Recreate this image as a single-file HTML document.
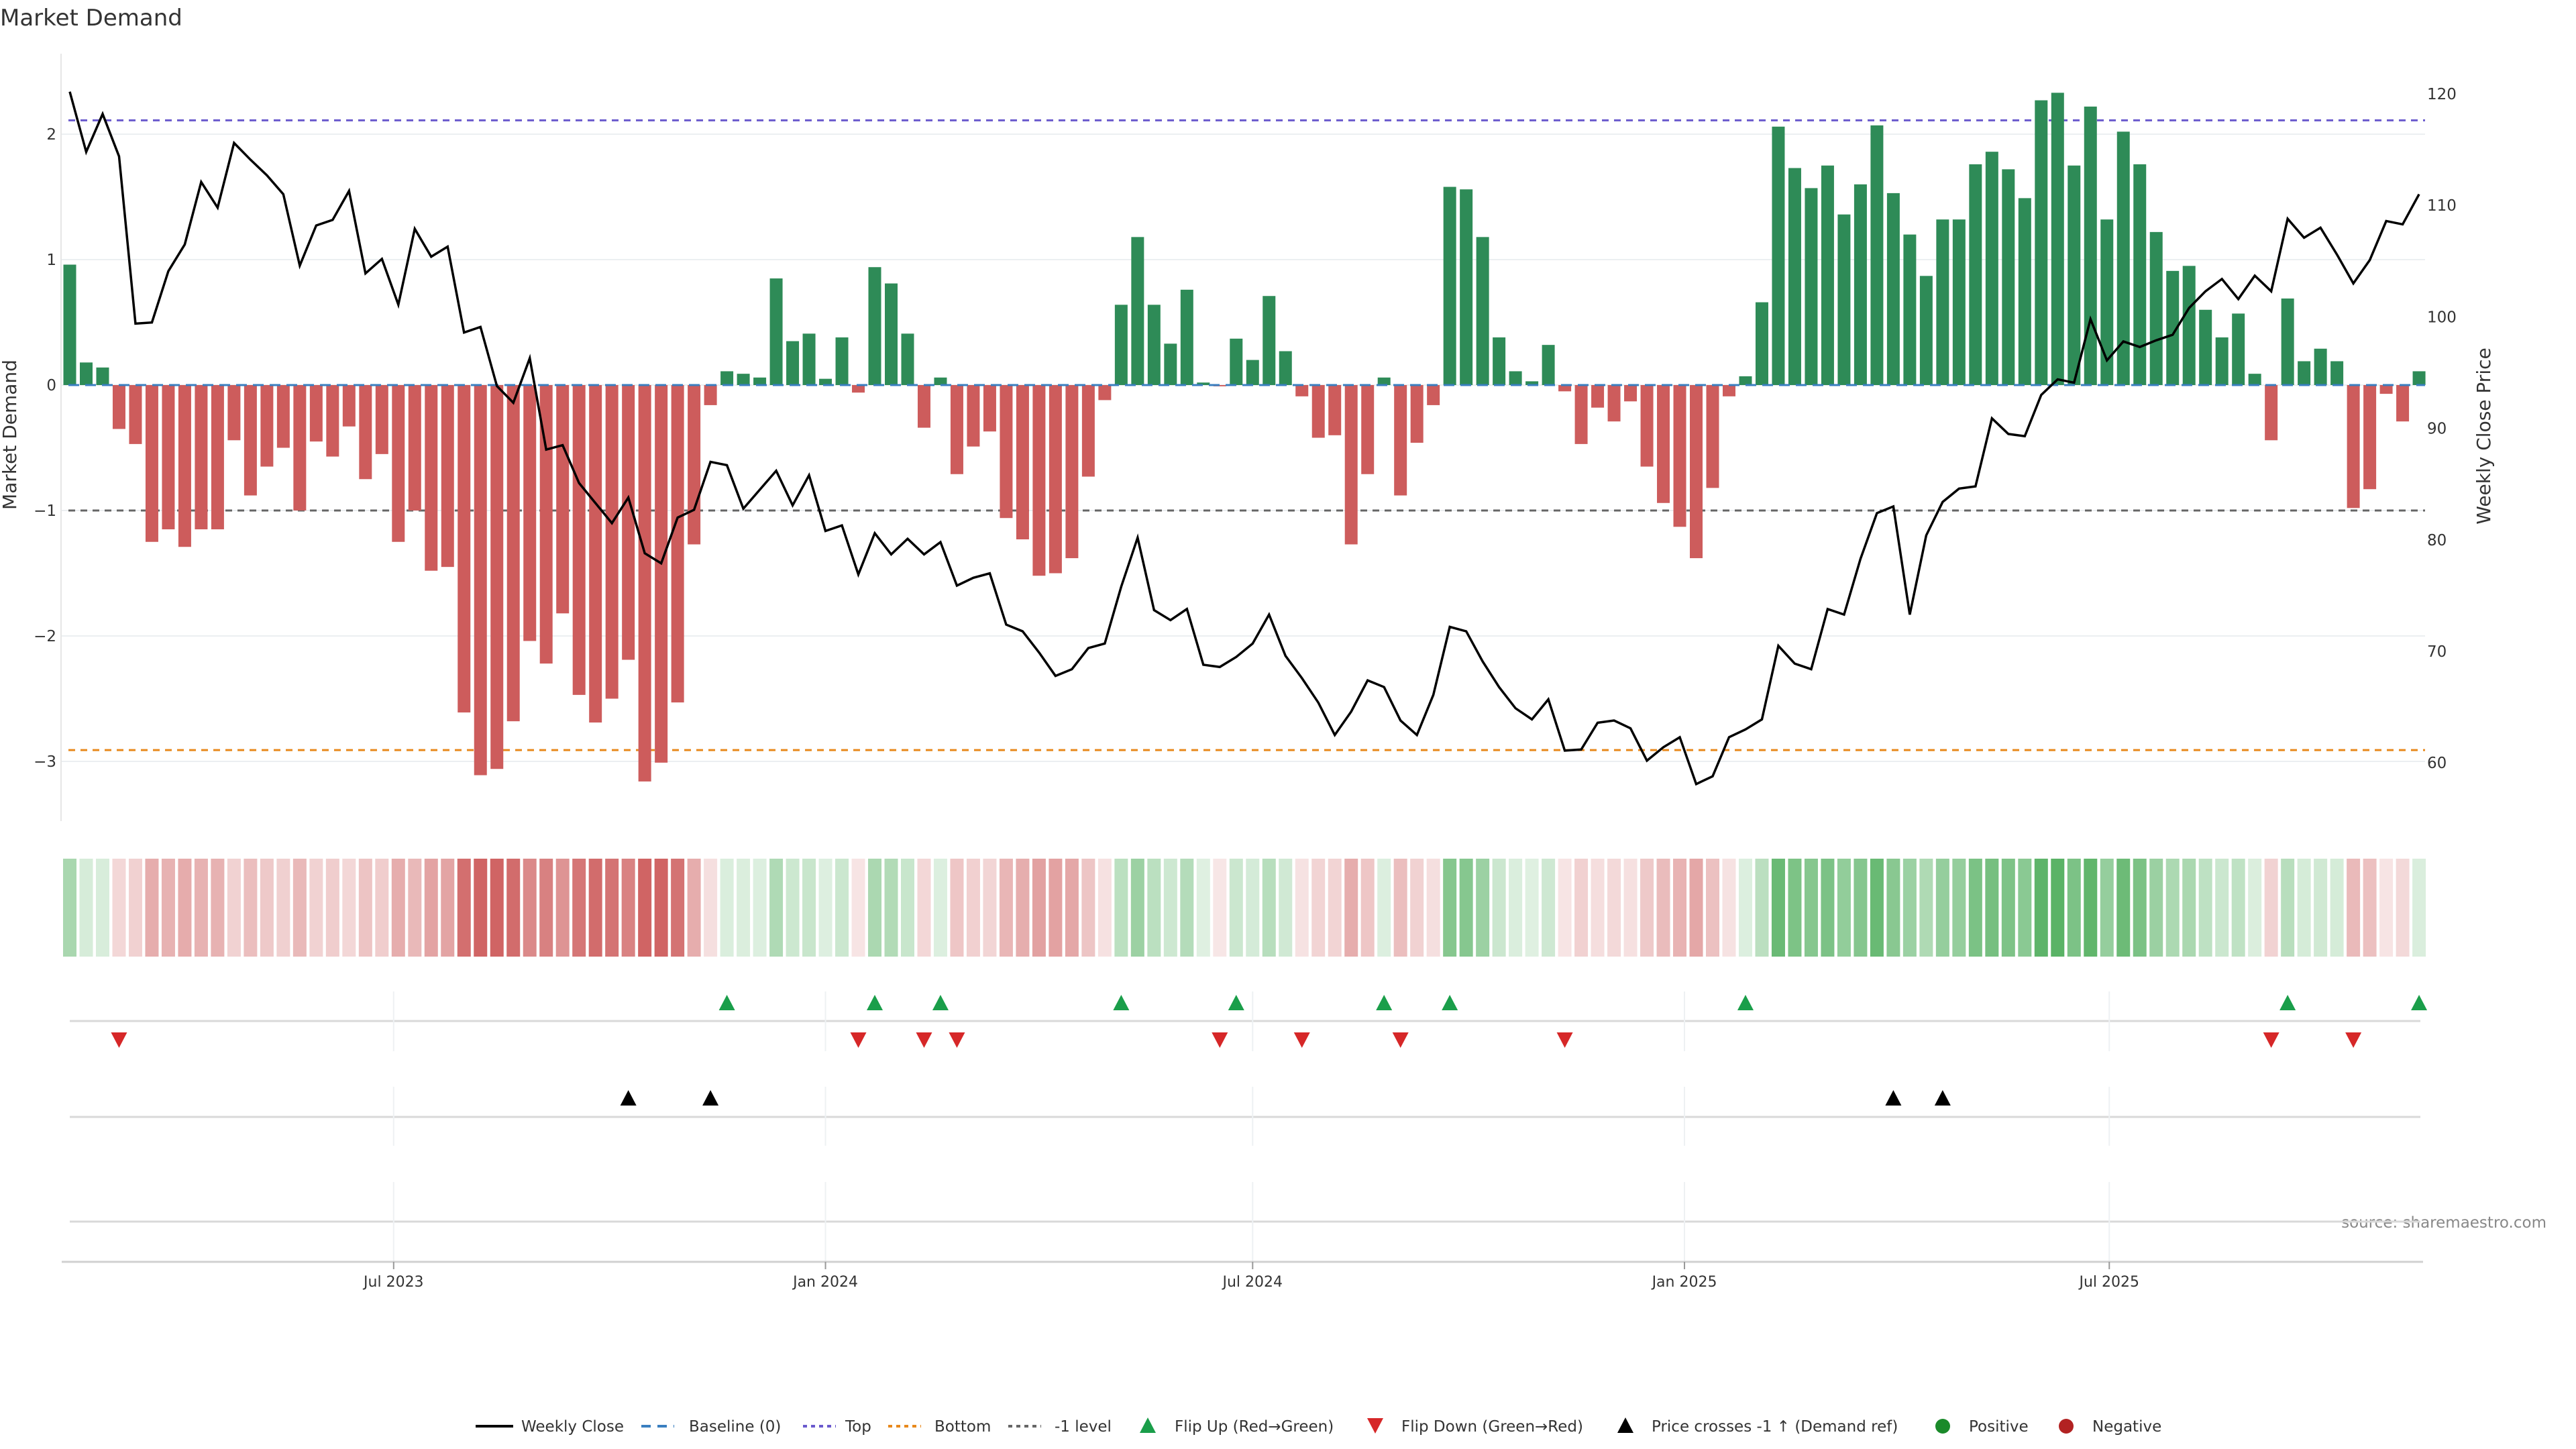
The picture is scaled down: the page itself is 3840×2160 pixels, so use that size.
<!DOCTYPE html>
<html><head><meta charset="utf-8"><title>Market Demand</title>
<style>
html,body{margin:0;padding:0;background:#fff;}
svg{display:block;font-family:"DejaVu Sans","Liberation Sans",sans-serif;}
</style></head>
<body>
<svg id="chart" xmlns="http://www.w3.org/2000/svg" width="3840" height="2160" viewBox="0 0 3840 2160">
<rect width="3840" height="2160" fill="#fff"/>
<text x="0" y="38" font-size="34" fill="#333">Market Demand</text>
<text transform="translate(24,648) rotate(-90)" text-anchor="middle" font-size="28" fill="#333">Market Demand</text>
<text transform="translate(3712,650) rotate(-90)" text-anchor="middle" font-size="28" fill="#333">Weekly Close Price</text>
<text x="3796" y="1830" text-anchor="end" font-size="23" fill="#888">source: sharemaestro.com</text>
<g id="grid"></g><g id="refs"></g><g id="bars"></g><g id="baseline"></g><g id="priceg"></g><g id="heat"></g><g id="events"></g><g id="xaxis"></g><g id="legend"></g>
</svg>
<script>
const startDate = "2023-02-13";
const demand = [0.96,0.18,0.14,-0.35,-0.47,-1.25,-1.15,-1.29,-1.15,-1.15,-0.44,-0.88,-0.65,-0.50,-1.00,-0.45,-0.57,-0.33,-0.75,-0.55,
-1.25,-1.00,-1.48,-1.45,-2.61,-3.11,-3.06,-2.68,-2.04,-2.22,-1.82,-2.47,-2.69,-2.50,-2.19,-3.16,-3.01,-2.53,-1.27,-0.16,
0.11,0.09,0.06,0.85,0.35,0.41,0.05,0.38,-0.06,0.94,0.81,0.41,-0.34,0.06,-0.71,-0.49,-0.37,-1.06,-1.23,-1.52,
-1.50,-1.38,-0.73,-0.12,0.64,1.18,0.64,0.33,0.76,0.02,-0.01,0.37,0.20,0.71,0.27,-0.09,-0.42,-0.40,-1.27,-0.71,
0.06,-0.88,-0.46,-0.16,1.58,1.56,1.18,0.38,0.11,0.03,0.32,-0.05,-0.47,-0.18,-0.29,-0.13,-0.65,-0.94,-1.13,-1.38,
-0.82,-0.09,0.07,0.66,2.06,1.73,1.57,1.75,1.36,1.60,2.07,1.53,1.20,0.87,1.32,1.32,1.76,1.86,1.72,1.49,
2.27,2.33,1.75,2.22,1.32,2.02,1.76,1.22,0.91,0.95,0.60,0.38,0.57,0.09,-0.44,0.69,0.19,0.29,0.19,-0.98,
-0.83,-0.07,-0.29,0.11];
const price = [120.2,114.8,118.2,114.4,99.4,99.5,104.1,106.5,112.1,109.8,115.6,114.1,112.7,111.0,104.6,108.2,108.7,111.3,103.9,105.2,
101.1,107.9,105.4,106.3,98.6,99.1,93.8,92.3,96.3,88.1,88.5,85.1,83.3,81.5,83.8,78.8,77.9,82.0,82.7,87.0,
86.7,82.8,84.5,86.2,83.1,85.8,80.8,81.3,76.9,80.6,78.7,80.1,78.7,79.8,75.9,76.6,77.0,72.4,71.8,69.9,
67.8,68.4,70.3,70.7,75.8,80.2,73.7,72.8,73.8,68.8,68.6,69.5,70.7,73.3,69.6,67.6,65.4,62.5,64.6,67.4,
66.8,63.8,62.5,66.1,72.2,71.8,69.1,66.8,64.9,63.9,65.7,61.1,61.2,63.6,63.8,63.1,60.2,61.4,62.3,58.1,
58.8,62.3,63.0,63.9,70.5,68.9,68.4,73.8,73.3,78.3,82.4,83.0,73.3,80.4,83.4,84.6,84.8,90.9,89.5,89.3,
93.0,94.4,94.1,99.8,96.1,97.8,97.3,97.9,98.4,100.8,102.3,103.4,101.6,103.7,102.3,108.8,107.1,108.0,105.6,103.0,
105.1,108.6,108.3,111.0];
const demandTicks = [2,1,0,-1,-2,-3];
const priceTicks = [60,70,80,90,100,110,120];
const xTickDates = ["2023-07-01","2024-01-01","2024-07-01","2025-01-01","2025-07-01"];
const xTickLabels = ["Jul 2023","Jan 2024","Jul 2024","Jan 2025","Jul 2025"];
const levels = [2.11,-1,-2.91];
const priceRef = 82.75;

const NS="http://www.w3.org/2000/svg";
const X0=104, STEP=24.49, Y0=574, KY=187, PY120=140, KP=16.62;
const xi=i=>X0+i*STEP;
const xd=d=>X0+(new Date(d)-new Date(startDate))/(7*864e5)*STEP;
const yv=v=>Y0-v*KY;
const yp=p=>PY120+(120-p)*KP;
function mk(tag,attrs,parent){const e=document.createElementNS(NS,tag);for(const k in attrs)e.setAttribute(k,attrs[k]);document.getElementById(parent).appendChild(e);return e;}
const L=92, R=3605;

demandTicks.forEach(t=>{
  const g=mk('line',{x1:L,x2:R+10,y1:yv(t),y2:yv(t),stroke:'#eceff1','stroke-width':2},'grid');
  
  
  const tx=mk('text',{x:84,y:yv(t)+8,'text-anchor':'end','font-size':23,fill:'#333'},'grid');
  tx.textContent=(t<0?'\u2212'+(-t):String(t));
  
  
});
priceTicks.forEach(t=>{
  const tx=mk('text',{x:3618,y:yp(t)+8,'font-size':23,fill:'#333'},'grid');
  tx.textContent=String(t);
  
  
});
const ax=mk('line',{x1:91,x2:91,y1:80,y2:1224,stroke:'#e6e6e6','stroke-width':2},'grid');



const refStyles=[['#6a5acd','10 8','top-line'],['#666','10 8','minus-one-line'],['#e8891c','10 8','bottom-line']];
levels.forEach((v,i)=>{
  const l=mk('line',{x1:L+10,x2:R+10,y1:yv(v),y2:yv(v),stroke:refStyles[i][0],'stroke-width':3,'stroke-dasharray':refStyles[i][1]},'refs');
  
  
});

demand.forEach((v,i)=>{
  const y=Math.min(yv(v),Y0), h=Math.abs(yv(v)-Y0);
  const b=mk('rect',{x:xi(i)-9.5,y:y,width:19,height:Math.max(h,0.5),fill:v>=0?'#2e8b57':'#cd5c5c'},'bars');
  
  
});
const bl=mk('line',{x1:L+10,x2:R+10,y1:Y0,y2:Y0,stroke:'#3a7fc0','stroke-width':3,'stroke-dasharray':'16 9'},'baseline');



const pl=mk('polyline',{points:price.map((p,i)=>xi(i)+','+yp(p)).join(' '),fill:'none',stroke:'#000','stroke-width':3.5,'stroke-linejoin':'miter'},'priceg');



demand.forEach((v,i)=>{
  const a=Math.min(0.95,0.15+0.28*Math.abs(v));
  const c=v>=0?'rgba(50,160,65,'+a+')':'rgba(205,92,92,'+a+')';
  const r=mk('rect',{x:xi(i)-10,y:1280,width:20,height:146,fill:c},'heat');
  
  
});

[[1522,1478,1567],[1665,1620,1708],[1821,1762,1880]].forEach(p=>{
  const l=mk('line',{x1:104,x2:3608,y1:p[0],y2:p[0],stroke:'#d9d9d9','stroke-width':3},'events');
  
  
  xTickDates.forEach(d=>{
    const g=mk('line',{x1:xd(d),x2:xd(d),y1:p[1],y2:p[2],stroke:'#eef1f3','stroke-width':2},'events');
    
    
  });
});
function tri(cx,cy,up,col,parent){
  const pts=up?[[cx-12,cy+12],[cx+12,cy+12],[cx,cy-11]]:[[cx-12,cy-12],[cx+12,cy-12],[cx,cy+11]];
  return mk('polygon',{points:pts.map(p=>p.join(',')).join(' '),fill:col},parent);
}
for(let i=1;i<demand.length;i++){
  if(demand[i-1]<=0&&demand[i]>0){const t=tri(xi(i),1494,true,'#1a9e4a','events');
    
    }
  if(demand[i-1]>0&&demand[i]<=0){const t=tri(xi(i),1551,false,'#d62728','events');
    
    }
  if(price[i-1]<priceRef&&price[i]>=priceRef){const t=tri(xi(i),1636,true,'#000','events');
    
    }
}

const xl=mk('line',{x1:92,x2:3612,y1:1881,y2:1881,stroke:'#d0d0d0','stroke-width':3},'xaxis');


xTickDates.forEach((d,i)=>{
  const tk=mk('line',{x1:xd(d),x2:xd(d),y1:1881,y2:1892,stroke:'#999','stroke-width':2},'xaxis');
  
  
  const t=mk('text',{x:xd(d),y:1918,'text-anchor':'middle','font-size':22,fill:'#333'},'xaxis');
  t.textContent=xTickLabels[i];
  
  
});

const LY=2126;
function ltext(x,s){const t=mk('text',{x:x,y:LY+8,'font-size':23,fill:'#333'},'legend');t.textContent=s;
  
  }
function lline(x1,x2,col,dash,w){const l=mk('line',{x1:x1,x2:x2,y1:LY,y2:LY,stroke:col,'stroke-width':w,'stroke-dasharray':dash},'legend');
  
  }
lline(709,765,'#000','none',4);ltext(777,'Weekly Close');
lline(956,1005,'#3a7fc0','14 10',4);ltext(1027,'Baseline (0)');
lline(1197,1246,'#6a5acd','6 6',4);ltext(1260,'Top');
lline(1324,1373,'#e8891c','6 6',4);ltext(1393,'Bottom');
lline(1503,1552,'#666','6 6',4);ltext(1572,'-1 level');
let t1=tri(1711,LY-2,true,'#1a9e4a','legend');


ltext(1751,'Flip Up (Red\u2192Green)');
let t2=tri(2050,LY,false,'#d62728','legend');


ltext(2089,'Flip Down (Green\u2192Red)');
let t3=tri(2423,LY-2,true,'#000','legend');


ltext(2462,'Price crosses -1 \u2191 (Demand ref)');
let c1=mk('circle',{cx:2896,cy:LY,r:11,fill:'#1a8a2a'},'legend');


ltext(2935,'Positive');
let c2=mk('circle',{cx:3080,cy:LY,r:11,fill:'#b22222'},'legend');


ltext(3119,'Negative');
</script>
</body></html>
